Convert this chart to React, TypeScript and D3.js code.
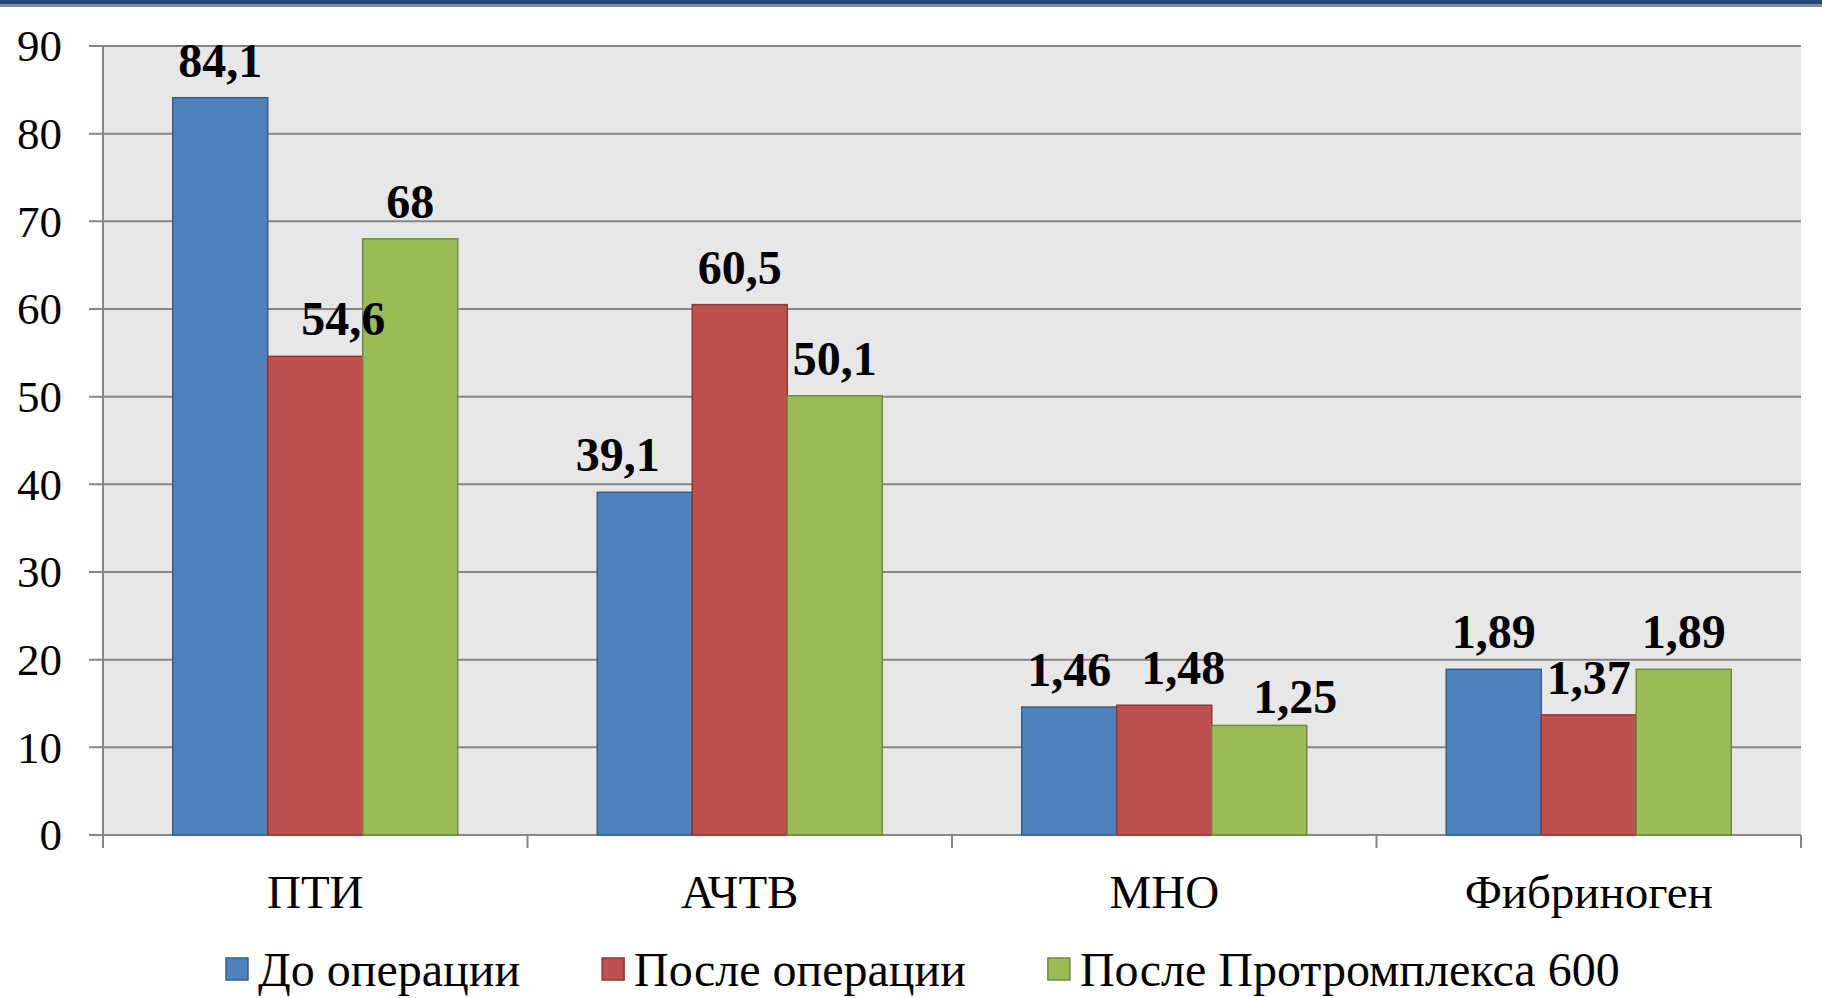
import React, { useEffect, useRef } from "react";
import * as d3 from "d3";

// categories and series
const categories = ["ПТИ", "АЧТВ", "МНО", "Фибриноген"];
// МНО and Фибриноген are drawn at x10 so they are visible on the same axis
const plotFactor = [1, 1, 10, 10];
const seriesNames = ["До операции", "После операции", "После Протромплекса 600"];
const beforeOp = [84.1, 39.1, 1.46, 1.89];
const afterOp = [54.6, 60.5, 1.48, 1.37];
const afterProtromplex = [68, 50.1, 1.25, 1.89];
const yTicks = [0, 10, 20, 30, 40, 50, 60, 70, 80, 90];

const seriesValues = [beforeOp, afterOp, afterProtromplex];
const fills = ["#4F81BD", "#C0504D", "#9BBB59"];
const strokes = ["#385D8A", "#8C3836", "#71893F"];

// hand-moved labels in the original (series-category -> [dx, dy])
const labelNudge: Record<string, [number, number]> = {
  "1-0": [28, 0],
  "0-1": [-27, 0],
  "1-2": [19, 0],
  "2-2": [36, 9],
};

const W = 1822;
const H = 998;
const FONT = "Liberation Serif";

const App = () => {
  const ref = useRef<SVGSVGElement>(null);

  useEffect(() => {
    const svg = d3.select(ref.current);
    svg.selectAll("*").remove();

    const plot = { left: 103, right: 1801, top: 46, bottom: 835 };

    const x = d3.scaleBand<string>().domain(categories).range([plot.left, plot.right]);
    const xs = d3
      .scaleBand<number>()
      .domain(d3.range(seriesNames.length))
      .range([0, x.bandwidth()])
      .paddingOuter(0.734);
    const y = d3.scaleLinear().domain([0, 90]).range([plot.bottom, plot.top]);

    // top band of the slide
    svg.append("rect").attr("x", 0).attr("y", 0).attr("width", W).attr("height", 4).attr("fill", "#1F497D");
    svg.append("rect").attr("x", 0).attr("y", 4).attr("width", W).attr("height", 3).attr("fill", "#8A8A8A");

    svg
      .append("rect")
      .attr("x", plot.left)
      .attr("y", plot.top)
      .attr("width", plot.right - plot.left)
      .attr("height", plot.bottom - plot.top)
      .attr("fill", "#E7E7E7");

    const grid = "#868686";
    svg
      .append("g")
      .selectAll("line")
      .data(yTicks)
      .join("line")
      .attr("x1", plot.left - 14)
      .attr("x2", plot.right)
      .attr("y1", (d) => y(d))
      .attr("y2", (d) => y(d))
      .attr("stroke", grid)
      .attr("stroke-width", 2);

    svg
      .append("g")
      .selectAll("text")
      .data(yTicks)
      .join("text")
      .attr("x", 62)
      .attr("y", (d) => y(d))
      .attr("dy", "0.34em")
      .attr("text-anchor", "end")
      .attr("font-family", FONT)
      .attr("font-size", 45)
      .text((d) => d);

    // bars
    const bars = svg.append("g");
    seriesValues.forEach((vals, s) => {
      bars
        .append("g")
        .selectAll("rect")
        .data(vals)
        .join("rect")
        .attr("x", (_, i) => (x(categories[i]) as number) + (xs(s) as number))
        .attr("y", (d, i) => y(d * plotFactor[i]))
        .attr("width", xs.bandwidth())
        .attr("height", (d, i) => y(0) - y(d * plotFactor[i]))
        .attr("fill", fills[s])
        .attr("stroke", strokes[s])
        .attr("stroke-width", 1.5);
    });

    // axis line and ticks
    svg
      .append("line")
      .attr("x1", plot.left)
      .attr("x2", plot.left)
      .attr("y1", plot.top)
      .attr("y2", plot.bottom + 13)
      .attr("stroke", grid)
      .attr("stroke-width", 2);
    svg
      .append("g")
      .selectAll("line")
      .data(categories)
      .join("line")
      .attr("x1", (d) => (x(d) as number) + x.step())
      .attr("x2", (d) => (x(d) as number) + x.step())
      .attr("y1", plot.bottom)
      .attr("y2", plot.bottom + 13)
      .attr("stroke", grid)
      .attr("stroke-width", 2);

    // value labels
    const labels = svg.append("g");
    seriesValues.forEach((vals, s) => {
      labels
        .append("g")
        .selectAll("text")
        .data(vals)
        .join("text")
        .attr("x", (_, i) => {
          const n = labelNudge[`${s}-${i}`];
          return (x(categories[i]) as number) + (xs(s) as number) + xs.bandwidth() / 2 + (n ? n[0] : 0);
        })
        .attr("y", (d, i) => {
          const n = labelNudge[`${s}-${i}`];
          return y(d * plotFactor[i]) - 21 + (n ? n[1] : 0);
        })
        .attr("text-anchor", "middle")
        .attr("font-family", FONT)
        .attr("font-weight", "bold")
        .attr("font-size", 48)
        .text((d) => String(d).replace(".", ","));
    });

    // category labels
    svg
      .append("g")
      .selectAll("text")
      .data(categories)
      .join("text")
      .attr("x", (d) => (x(d) as number) + x.bandwidth() / 2)
      .attr("y", 908)
      .attr("text-anchor", "middle")
      .attr("font-family", FONT)
      .attr("font-size", 47)
      .text((d) => d);

    // legend
    const legend = svg.append("g");
    let lx = 226;
    seriesNames.forEach((name, s) => {
      legend
        .append("rect")
        .attr("x", lx)
        .attr("y", 958)
        .attr("width", 22)
        .attr("height", 22)
        .attr("fill", fills[s])
        .attr("stroke", strokes[s])
        .attr("stroke-width", 1.5);
      const t = legend
        .append("text")
        .attr("x", lx + 32)
        .attr("y", 986)
        .attr("font-family", FONT)
        .attr("font-size", 48)
        .text(name);
      const w = (t.node() as SVGTextElement).getComputedTextLength();
      lx += 32 + w + 82;
    });
  }, []);

  return (
    <svg
      ref={ref}
      width={W}
      height={H}
      style={{ position: "absolute", left: 0, top: 0, background: "#fff" }}
    />
  );
};

export default App;
